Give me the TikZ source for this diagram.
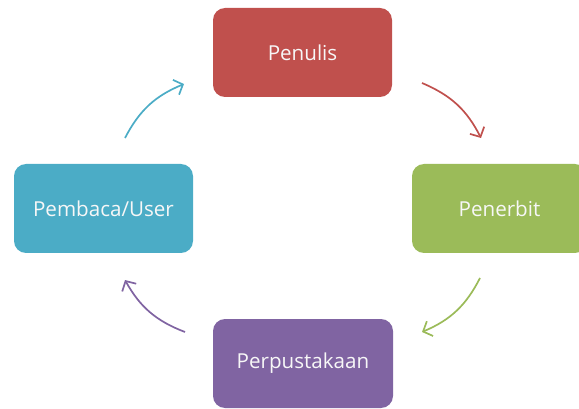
\documentclass[tikz,border=0pt]{standalone}
\usepackage{fontspec}
\setmainfont{Open Sans}
\usetikzlibrary{arrows.meta}
\definecolor{cred}{HTML}{C0504D}
\definecolor{cgreen}{HTML}{9BBB59}
\definecolor{ccyan}{HTML}{4BACC6}
\definecolor{cpurple}{HTML}{8064A2}
\tikzset{
  box/.style={rounded corners=12pt, minimum width=179pt, minimum height=89pt, inner sep=0pt, text=white!94!gray, font=\fontsize{20.6}{24}\selectfont},
  flow/.style={line width=1.7pt, -{Straight Barb[length=7.5pt, width=16pt, line width=1.7pt]}, bend left=20}
}
\begin{document}
\begin{tikzpicture}[x=1pt,y=-1pt]
\useasboundingbox (0,0) rectangle (579,409);
\node[box, fill=cred] (pen) at (302.5,52.5) {Penulis};
\node[box, fill=cgreen, minimum width=175pt] (ter) at (499.5,208.5) {Penerbit};
\node[box, fill=ccyan] (pem) at (103.5,208.5) {Pembaca/User};
\node[box, fill=cpurple, minimum width=180pt] (per) at (303,363.5) {Perpustakaan};
\coordinate (r1) at (422,83); \coordinate (r2) at (481,138);
\coordinate (g1) at (480,278); \coordinate (g2) at (422,332);
\coordinate (p1) at (185,332); \coordinate (p2) at (125,280);
\coordinate (c1) at (125,138); \coordinate (c2) at (184,84);
\draw[flow, cred] (r1) to (r2);
\draw[flow, cgreen] (g1) to (g2);
\draw[flow, cpurple] (p1) to (p2);
\draw[flow, ccyan] (c1) to (c2);
\end{tikzpicture}
\end{document}
